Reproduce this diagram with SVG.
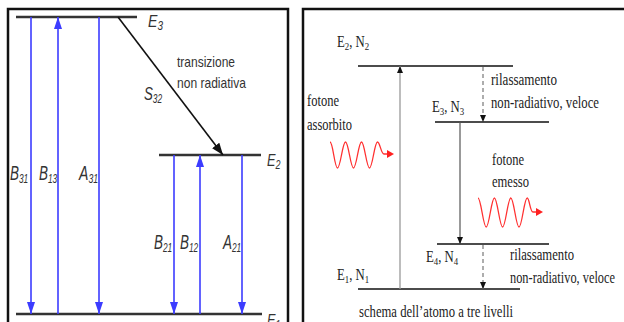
<svg xmlns="http://www.w3.org/2000/svg" width="624" height="322" viewBox="0 0 624 322">
<style>
.frame{fill:none;stroke:#111;stroke-width:2.5}
.lvl{stroke:#333;stroke-width:2.5}
.lvr{stroke:#111;stroke-width:1.3}
.blue{stroke:#3c3cff;stroke-width:1.6;fill:none}
.ls{font-family:"Liberation Sans",Arial,sans-serif;font-style:italic;fill:#333}
.lt{font-family:"Liberation Sans",Arial,sans-serif;fill:#333}
.rs{font-family:"Liberation Serif","Times New Roman",serif;fill:#222}
.wave{fill:none;stroke:#ff3030;stroke-width:1.3}
</style>
<defs>
<marker id="ab" markerUnits="userSpaceOnUse" markerWidth="12" markerHeight="8" refX="12" refY="4" orient="auto"><path d="M0,0 L12,4 L0,8 z" fill="#3c3cff"/></marker>
<marker id="ak" markerUnits="userSpaceOnUse" markerWidth="12" markerHeight="9" refX="12" refY="4.5" orient="auto"><path d="M0,0 L12,4.5 L0,9 z" fill="#111"/></marker>
<marker id="as" markerUnits="userSpaceOnUse" markerWidth="7" markerHeight="6" refX="7" refY="3" orient="auto"><path d="M0,0 L7,3 L0,6 z" fill="#111"/></marker>
</defs>
<rect width="624" height="322" fill="#fff"/>
<path class="frame" d="M8,324 V9 H288 V324"/>
<path class="frame" d="M303,324 V9 H626"/>

<g id="E3-left"><line class="lvl" x1="16" y1="17" x2="137" y2="17"/><text class="ls" transform="translate(148,27) scale(0.83,1)" font-size="17">E<tspan font-size="12" dy="3">3</tspan></text></g>
<g id="E2-left"><line class="lvl" x1="159" y1="155" x2="261" y2="155"/><text class="ls" transform="translate(267,166) scale(0.75,1)" font-size="17">E<tspan font-size="12" dy="3">2</tspan></text></g>
<g id="E1-left"><line class="lvl" x1="16" y1="314" x2="262" y2="314"/><text class="ls" transform="translate(267,326) scale(0.75,1)" font-size="17">E<tspan font-size="12" dy="3">1</tspan></text></g>

<g id="left-connectors">
<line class="blue" x1="31" y1="17" x2="31" y2="314" marker-end="url(#ab)"/>
<line class="blue" x1="58" y1="314" x2="58" y2="17" marker-end="url(#ab)"/>
<line class="blue" x1="99" y1="17" x2="99" y2="314" marker-end="url(#ab)"/>
<line class="blue" x1="174" y1="155" x2="174" y2="314" marker-end="url(#ab)"/>
<line class="blue" x1="200" y1="314" x2="200" y2="155" marker-end="url(#ab)"/>
<line class="blue" x1="242" y1="155" x2="242" y2="314" marker-end="url(#ab)"/>
<line x1="118" y1="17" x2="223" y2="155" stroke="#111" stroke-width="1.6" marker-end="url(#ak)"/>
</g>
<g id="left-labels">
<text class="ls" transform="translate(10,180) scale(0.64,1)" font-size="21">B<tspan font-size="13" dy="3">31</tspan></text>
<text class="ls" transform="translate(39,180) scale(0.64,1)" font-size="21">B<tspan font-size="13" dy="3">13</tspan></text>
<text class="ls" transform="translate(79,180) scale(0.67,1)" font-size="21">A<tspan font-size="13" dy="3">31</tspan></text>
<text class="ls" transform="translate(154,249) scale(0.64,1)" font-size="21">B<tspan font-size="13" dy="3">21</tspan></text>
<text class="ls" transform="translate(180,249) scale(0.64,1)" font-size="21">B<tspan font-size="13" dy="3">12</tspan></text>
<text class="ls" transform="translate(223,249) scale(0.64,1)" font-size="21">A<tspan font-size="13" dy="3">21</tspan></text>
<text class="ls" transform="translate(144,100) scale(0.7,1)" font-size="19">S<tspan font-size="12" dy="3">32</tspan></text>
<text class="lt" x="177" y="67" font-size="15" textLength="58" lengthAdjust="spacingAndGlyphs">transizione</text>
<text class="lt" x="177" y="88" font-size="15" textLength="69" lengthAdjust="spacingAndGlyphs">non radiativa</text>
</g>

<g id="E2-right"><line class="lvr" x1="358" y1="66" x2="513" y2="66"/><text class="rs" transform="translate(337,47) scale(0.8,1)" font-size="16">E<tspan font-size="11" dy="3">2</tspan><tspan dy="-3">, N</tspan><tspan font-size="11" dy="3">2</tspan></text></g>
<g id="E3-right"><line class="lvr" x1="435" y1="122" x2="549" y2="122"/><text class="rs" transform="translate(432,112) scale(0.8,1)" font-size="16">E<tspan font-size="11" dy="3">3</tspan><tspan dy="-3">, N</tspan><tspan font-size="11" dy="3">3</tspan></text></g>
<g id="E4-right"><line class="lvr" x1="437" y1="244" x2="549" y2="244"/><text class="rs" transform="translate(426,262) scale(0.8,1)" font-size="16">E<tspan font-size="11" dy="3">4</tspan><tspan dy="-3">, N</tspan><tspan font-size="11" dy="3">4</tspan></text></g>
<g id="E1-right"><line class="lvr" x1="358" y1="289" x2="520" y2="289"/><text class="rs" transform="translate(337,280) scale(0.8,1)" font-size="16">E<tspan font-size="11" dy="3">1</tspan><tspan dy="-3">, N</tspan><tspan font-size="11" dy="3">1</tspan></text></g>

<g id="right-connectors">
<line x1="400" y1="289" x2="400" y2="66" stroke="#999" stroke-width="1.3" marker-end="url(#as)"/>
<line x1="483" y1="67" x2="483" y2="122" stroke="#777" stroke-width="1.2" stroke-dasharray="4,3" marker-end="url(#as)"/>
<line x1="460" y1="122" x2="460" y2="244" stroke="#555" stroke-width="1.2" marker-end="url(#as)"/>
<line x1="483" y1="245" x2="483" y2="289" stroke="#777" stroke-width="1.2" stroke-dasharray="4,3" marker-end="url(#as)"/>
</g>

<g id="photon-absorbed">
<path class="wave" d="M330,142 C333,142 334.5,168 337.5,168 S342.5,142 345.5,142 S350.5,168 353.5,168 S358.5,142 361.5,142 S366.5,168 369.5,168 S374.5,142 377.5,142 C380,142 381,154 384,154 L388,154"/>
<path d="M387,150 L394,154 L387,158 z" fill="#ff2020"/>
</g>
<g id="photon-emitted">
<path class="wave" d="M478,198 C481,198 483.2,227 486.2,227 S491.4,198 494.4,198 S499.6,227 502.6,227 S507.8,198 510.8,198 S516,227 519,227 S524.2,198 527.2,198 C529.5,198 530,212 533,212 L537,212"/>
<path d="M536,208 L543,212 L536,216 z" fill="#ff2020"/>
</g>

<g id="right-labels">
<text class="rs" x="307" y="106" font-size="17" textLength="32" lengthAdjust="spacingAndGlyphs">fotone</text>
<text class="rs" x="307" y="130" font-size="17" textLength="45" lengthAdjust="spacingAndGlyphs">assorbito</text>
<text class="rs" x="491" y="85" font-size="17" textLength="66" lengthAdjust="spacingAndGlyphs">rilassamento</text>
<text class="rs" x="491" y="108" font-size="17" textLength="108" lengthAdjust="spacingAndGlyphs">non-radiativo, veloce</text>
<text class="rs" x="492" y="165" font-size="17" textLength="32" lengthAdjust="spacingAndGlyphs">fotone</text>
<text class="rs" x="492" y="187" font-size="17" textLength="37" lengthAdjust="spacingAndGlyphs">emesso</text>
<text class="rs" x="510" y="260" font-size="17" textLength="64" lengthAdjust="spacingAndGlyphs">rilassamento</text>
<text class="rs" x="510" y="283" font-size="17" textLength="105" lengthAdjust="spacingAndGlyphs">non-radiativo, veloce</text>
<text class="rs" x="359" y="317" font-size="17" textLength="154" lengthAdjust="spacingAndGlyphs">schema dell’atomo a tre livelli</text>
</g>
</svg>
